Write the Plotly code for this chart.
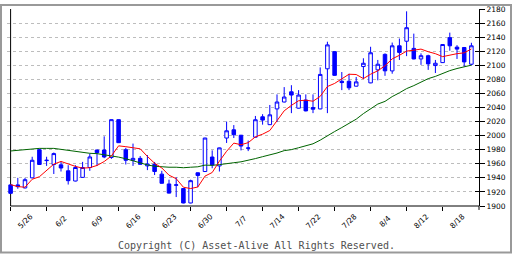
import plotly.graph_objects as go

# ---------------- data ----------------
week_labels = ['5/26', '6/2', '6/9', '6/16', '6/23', '6/30', '7/7',
               '7/14', '7/22', '7/28', '8/4', '8/12', '8/18']

opens = [1930, 1930, 1925.7, 1940, 1980, 1964.5, 1959, 1958.5, 1950, 1935.5,
         1940.7, 1954.7, 1979.6, 1979.6, 1969, 2022.7, 1980, 1965, 1967.7, 1957,
         1959.3, 1945.3, 1931.3, 1929.5, 1924.8, 1904.3, 1947.2, 1949, 1969.6, 1957,
         1996.6, 2008.3, 2000.6, 1982, 1997.8, 2026.8, 2015.6, 2038, 2047.8, 2062.3,
         2039, 2050.6, 2040, 2038, 2095, 2119.4, 2077.3, 2077.3, 2070.3, 2098.2,
         2075, 2093.5, 2115.5, 2092, 2127.7, 2134.2, 2124, 2109, 2113.6, 2099.6,
         2103.8, 2139.3, 2125.8, 2125.3, 2101.5]
highs = [1931, 1940, 1940, 1970, 1981.5, 1970, 1976, 1963, 1958, 1958,
         1962.7, 1974.4, 1980, 1999, 2023, 2023, 1982.6, 1988.7, 1971, 1972.4,
         1962.6, 1950, 1937.4, 1940.7, 1925.2, 1937.4, 1947.6, 1997, 1979, 1983,
         2020, 2015, 2001, 1993, 2028, 2030.5, 2043.6, 2058.6, 2069, 2071.7,
         2064.7, 2058.6, 2058.6, 2097, 2133.5, 2120, 2090.4, 2088, 2083.4, 2110,
         2126.3, 2107.6, 2117, 2132.3, 2138, 2176.7, 2145, 2117, 2115, 2107.6,
         2130, 2146.4, 2128.6, 2126, 2132]
lows = [1917.5, 1924.5, 1925, 1939.5, 1958.5, 1957, 1945.5, 1949, 1930.5, 1935,
        1940, 1950, 1957, 1968, 1967, 1989.5, 1959, 1957, 1958.8, 1951,
        1944, 1931.8, 1917.8, 1912.7, 1903.8, 1903.8, 1926.7, 1948.5, 1953.7, 1949,
        1989.6, 1996.6, 1979, 1978, 1997.3, 2015.6, 2015.1, 2019.3, 2047.3, 2032,
        2038.5, 2034.5, 2032, 2037.5, 2032, 2085.2, 2064.7, 2064.7, 2069.8, 2080.5,
        2074.5, 2078.6, 2085, 2088, 2107.6, 2113, 2108.5, 2100.6, 2093.5, 2089,
        2103.3, 2120.7, 2109, 2098, 2100]
closes = [1918, 1927.5, 1937.4, 1965, 1959, 1965, 1974.5, 1954, 1936, 1954.7,
          1954.7, 1969.7, 1975.8, 1969.7, 2022.7, 1990, 1965, 1967.7, 1959.3, 1959.8,
          1949, 1932.3, 1918.3, 1930, 1904.3, 1936, 1943.4, 1996.6, 1958.4, 1982.6,
          2006.9, 2001.3, 1985.2, 1982.5, 2022.6, 2022.1, 2029.6, 2047.8, 2054.9, 2057.7,
          2057.7, 2035.2, 2037.6, 2087, 2129, 2085.7, 2075.4, 2068, 2076.4, 2102.9,
          2117.8, 2101.5, 2092.1, 2127.7, 2118.3, 2153.4, 2109, 2113.6, 2102, 2102.9,
          2129.5, 2127.7, 2123, 2104.8, 2127.7]

# short moving average (red line)
ma_short = [1930.4, 1927.6, 1926.7, 1938, 1941.6, 1951, 1959.5, 1963.3, 1959.4, 1956.3,
            1953.8, 1954.5, 1957.6, 1963.2, 1971.1, 1985.5, 1984.3, 1983.3, 1981.3, 1970.5,
            1960.8, 1954.1, 1943.8, 1938.8, 1926.7, 1924.8, 1927, 1942.5, 1947.6, 1963.7,
            1977.8, 1989.4, 1987.1, 1990, 1998.3, 2002.1, 2007.3, 2021.2, 2035.3, 2043,
            2049.6, 2050.4, 2048.9, 2055.8, 2069.8, 2074.2, 2080.6, 2087.3, 2086.9, 2081.1,
            2087.3, 2092.2, 2099.3, 2109.1, 2114.2, 2120.1, 2121.5, 2123, 2119.3, 2116.5,
            2112.3, 2114.8, 2116.5, 2117.7, 2123.2]

# long moving average (green line)
ma_long = [1978.2, 1979.1, 1980.5, 1981.9, 1981.9, 1981.9, 1981.9, 1980.5, 1979.1, 1977.2,
           1975.8, 1974.9, 1974.4, 1973, 1971.6, 1969.5, 1967.2, 1964, 1960.7, 1958.4,
           1956.5, 1955.6, 1955.1, 1955.1, 1954.4, 1955.1, 1955.7, 1958.1, 1957.8, 1958.8,
           1960.5, 1961.5, 1962.8, 1964.6, 1967.4, 1970.1, 1972.4, 1975.3, 1978.7, 1980.1,
           1982.8, 1985.7, 1988.4, 1993.6, 2000.3, 2005.8, 2011.5, 2017.5, 2023.4, 2031.3,
           2038.6, 2044.9, 2048.7, 2055.5, 2060.9, 2066.8, 2071.1, 2076.2, 2081, 2084.2,
           2088.5, 2092.4, 2095.4, 2097.4, 2100.2]

y_ticks = list(range(1900, 2181, 20))
Y_MIN, Y_MAX = 1900, 2180
copyright_text = 'Copyright (C) Asset-Alive All Rights Reserved.'

# ---------------- layout geometry ----------------
W, H = 512, 256
ML, MR, MT, MB = 7, 33, 5, 50
PW = W - ML - MR
PH = H - MT - MB
STEP_PX = 7.2
XMIN = -0.5
XMAX = XMIN + PW / STEP_PX

def px_x(p):
    return (p - ML) / PW

def px_y(p):
    return (H - MB - p) / PH

x = list(range(len(opens)))
blue = '#0000ff'

fig = go.Figure()
fig.add_trace(go.Candlestick(
    x=x, open=opens, high=highs, low=lows, close=closes,
    increasing=dict(line=dict(color=blue, width=1), fillcolor='#ffffff'),
    decreasing=dict(line=dict(color=blue, width=1), fillcolor=blue),
    whiskerwidth=0, showlegend=False, hoverinfo='skip'))
fig.add_trace(go.Scatter(x=x, y=ma_long, mode='lines',
                         line=dict(color='#006400', width=1), showlegend=False, hoverinfo='skip'))
fig.add_trace(go.Scatter(x=x, y=ma_short, mode='lines',
                         line=dict(color='#ff0000', width=1), showlegend=False, hoverinfo='skip'))
fig.add_trace(go.Scatter(x=[None], y=[None], yaxis='y2', showlegend=False, hoverinfo='skip'))

tick_font = dict(family='DejaVu Sans', size=7.5, color='black')

fig.update_layout(
    width=W, height=H, autosize=False,
    margin=dict(l=ML, r=MR, t=MT, b=MB, pad=0),
    paper_bgcolor='white', plot_bgcolor='white', showlegend=False,
    xaxis=dict(range=[XMIN, XMAX], rangeslider=dict(visible=False), showgrid=False,
               zeroline=False, showline=False, tickmode='array',
               tickvals=[k * 5 for k in range(len(week_labels))],
               ticktext=[''] * len(week_labels), ticks='outside', ticklen=4,
               tickcolor='black', tickwidth=1),
    yaxis=dict(range=[Y_MIN, Y_MAX], side='right', tickmode='array', tickvals=y_ticks,
               ticktext=[str(v) for v in y_ticks], ticks='outside', ticklen=5,
               tickcolor='black', tickwidth=1, showline=True, linecolor='black',
               linewidth=1, showgrid=True, gridcolor='#bdbdbd', gridwidth=1,
               griddash='3px,3px', zeroline=False, tickfont=tick_font),
    yaxis2=dict(range=[Y_MIN, Y_MAX], overlaying='y', side='right', tickmode='array',
                tickvals=y_ticks, ticks='inside', ticklen=4, tickcolor='black',
                tickwidth=1, showticklabels=False, showgrid=False, zeroline=False,
                showline=False),
)

shapes = [
    # hide grid left of the left axis
    dict(type='rect', xref='x', yref='paper', x0=XMIN, x1=0, y0=0, y1=1,
         fillcolor='white', line=dict(width=0), layer='between'),
    # left axis line
    dict(type='line', xref='x', yref='paper', x0=0, x1=0, y0=0, y1=1,
         line=dict(color='black', width=1), layer='between'),
    # bottom axis line
    dict(type='line', xref='x', yref='paper', x0=0, x1=XMAX, y0=0, y1=0,
         line=dict(color='black', width=1), layer='above'),
    # small tick below right axis
    dict(type='line', xref='paper', yref='paper', x0=1, x1=1, y0=0, y1=-4 / PH,
         line=dict(color='black', width=1)),
    # outer frame
    dict(type='rect', xref='paper', yref='paper', x0=px_x(1), x1=px_x(511),
         y0=px_y(253.5), y1=px_y(1), line=dict(color='#999999', width=2)),
]
fig.update_layout(shapes=shapes)

annotations = []
for k, lab in enumerate(week_labels):
    annotations.append(dict(x=k * 5 + 2, y=0, xref='x', yref='paper', text=lab,
                            showarrow=False, textangle=-45, xanchor='center',
                            yanchor='middle', yshift=-15.5,
                            font=dict(family='DejaVu Sans', size=7.5, color='black')))
annotations.append(dict(x=px_x(256), y=px_y(246), xref='paper', yref='paper',
                        text=copyright_text, showarrow=False, xanchor='center',
                        yanchor='middle',
                        font=dict(family='DejaVu Sans Mono', size=10, color='#505050')))
fig.update_layout(annotations=annotations)

fig.write_html('out.html')
